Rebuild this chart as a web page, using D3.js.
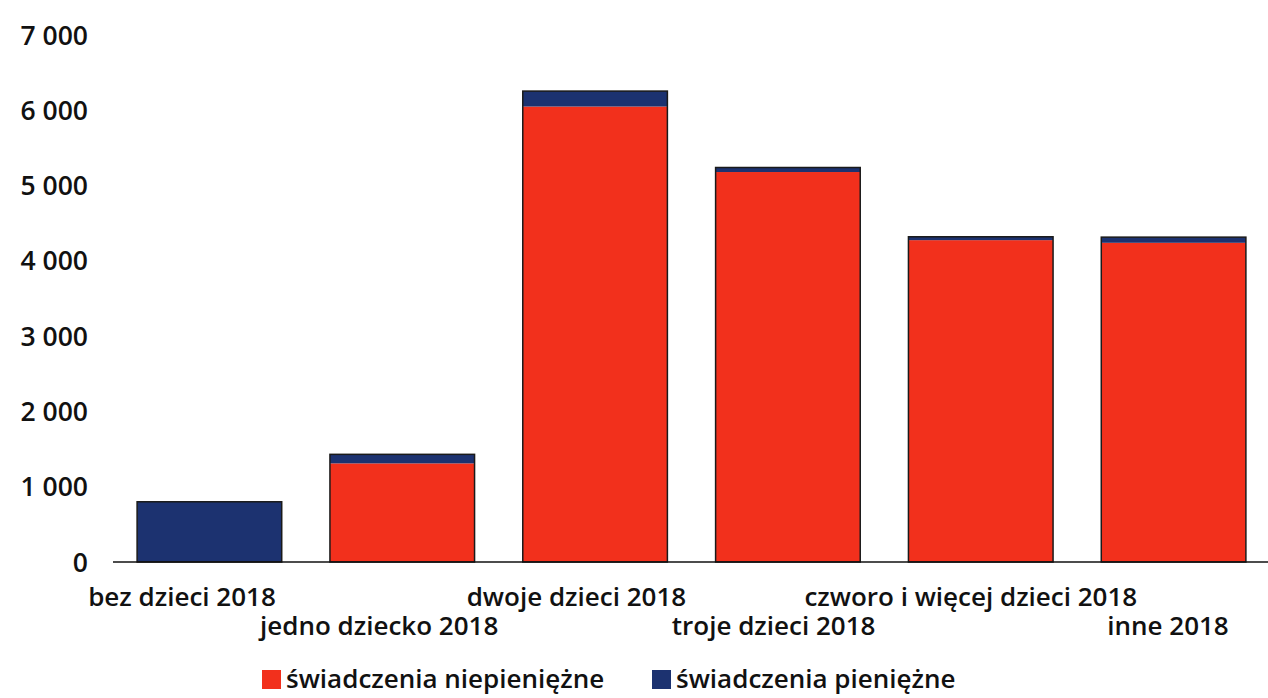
<!DOCTYPE html>
<html><head><meta charset="utf-8">
<script src="https://cdn.jsdelivr.net/npm/d3@7"></script>
<style>body{margin:0;background:#fff}svg{display:block}text{font-family:"Open Sans",sans-serif;font-weight:600;fill:#111}</style>
</head><body><svg id="c" width="1268" height="698"></svg>
<script>
const categories = ["bez dzieci 2018","jedno dziecko 2018","dwoje dzieci 2018","troje dzieci 2018","czworo i więcej dzieci 2018","inne 2018"];
const seriesNames = ["świadczenia niepieniężne","świadczenia pieniężne"];
const niepieniezne = [0, 1310, 6050, 5180, 4275, 4240];
const pieniezne = [800, 120, 205, 60, 45, 75];
const yTicks = [0,1000,2000,3000,4000,5000,6000,7000];
const colors = ["#f2301c","#1c3270"];

const svg = d3.select("#c");
const x = d3.scaleBand().domain(categories).range([113,1270]).paddingInner(0.25).paddingOuter(0.125);
const xl = d3.scalePoint().domain(categories).range([182,1168]);
const y = d3.scaleLinear().domain([0,7000]).range([562,35]);

const data = categories.map((c,i)=>({cat:c, n:niepieniezne[i], p:pieniezne[i]}));
const stack = d3.stack().keys(["n","p"])(data);

svg.append("g").selectAll("g").data(stack).join("g")
  .attr("fill",(d,i)=>colors[i])
  .selectAll("rect").data(d=>d).join("rect")
  .attr("x",d=>x(d.data.cat))
  .attr("width",x.bandwidth())
  .attr("y",d=>y(d[1]))
  .attr("height",d=>Math.max(0,y(d[0])-y(d[1])));
svg.append("g").selectAll("rect").data(data).join("rect")
  .attr("x",d=>x(d.cat)).attr("width",x.bandwidth())
  .attr("y",d=>y(d.n+d.p)).attr("height",d=>y(0)-y(d.n+d.p))
  .attr("fill","none").attr("stroke","#1a1a1a").attr("stroke-width",1.5);

const fmt = v => d3.format(",")(v).replace(/,/g," ");
svg.append("g").selectAll("text").data(yTicks).join("text")
  .attr("x",88).attr("y",d=>y(d)).attr("dy","0.36em").attr("text-anchor","end")
  .attr("font-size",26.5).text(fmt);

svg.append("line").attr("x1",113).attr("x2",1268).attr("y1",y(0)).attr("y2",y(0))
  .attr("stroke","#111").attr("stroke-width",1.5);

svg.append("g").selectAll("text").data(categories).join("text")
  .attr("x",d=>xl(d))
  .attr("y",(d,i)=> i%2===0 ? 606 : 635)
  .attr("text-anchor","middle").attr("font-size",26).text(d=>d);

const leg = svg.append("g");
const legX = [262, 652];
seriesNames.forEach((s,i)=>{
  leg.append("rect").attr("x",legX[i]).attr("y",670).attr("width",19).attr("height",19).attr("fill",colors[i]);
  leg.append("text").attr("x",legX[i]+24).attr("y",679).attr("dy","0.36em").attr("font-size",26).text(s);
});
</script></body></html>
